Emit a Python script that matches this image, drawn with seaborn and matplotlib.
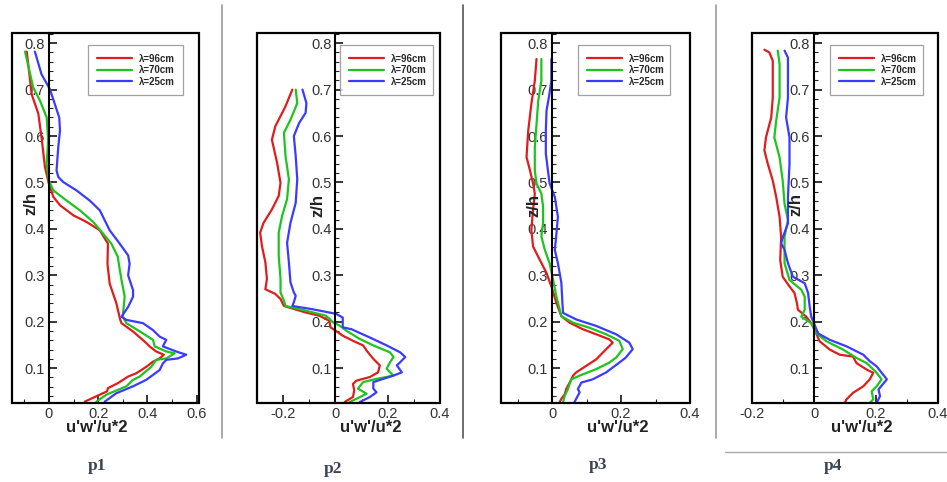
import matplotlib
matplotlib.use('Agg')
import matplotlib.pyplot as plt
import seaborn as sns
import pandas as pd
from matplotlib.ticker import MultipleLocator, FuncFormatter
from matplotlib.patches import Rectangle
from matplotlib.lines import Line2D

sns.set_style('white')
plt.rcParams['font.family'] = ['Liberation Sans', 'DejaVu Sans']

series_labels = ['λ=96cm', 'λ=70cm', 'λ=25cm']
series_colors = ['#e01c1c', '#1ec41e', '#3b3bff']
panel_names = ['p1', 'p2', 'p3', 'p4']
xlabel_text = "u'w'/u*2"
ylabel_text = "z/h"

# ---------------- panel p1 ----------------
p1_red_u = [-0.09, -0.07, -0.043, -0.03, -0.016, 0.0, 0.018, 0.045, 0.10, 0.153, 0.207, 0.24, 0.238, 0.247,
            0.274, 0.29, 0.295, 0.342, 0.396, 0.409, 0.436, 0.467, 0.45, 0.423, 0.396, 0.355, 0.322, 0.281,
            0.24, 0.236, 0.207, 0.146]
p1_red_z = [0.782, 0.69, 0.648, 0.597, 0.533, 0.497, 0.469, 0.451, 0.429, 0.415, 0.397, 0.368, 0.325, 0.282,
            0.24, 0.204, 0.197, 0.179, 0.154, 0.147, 0.136, 0.129, 0.121, 0.114, 0.103, 0.089, 0.082, 0.068,
            0.057, 0.05, 0.043, 0.028]
p1_green_u = [-0.097, -0.064, -0.036, -0.009, -0.003, -0.009, 0.0, 0.018, 0.072, 0.126, 0.18, 0.22, 0.254,
              0.28, 0.284, 0.295, 0.308, 0.30, 0.315, 0.382, 0.423, 0.43, 0.477, 0.511, 0.477, 0.436, 0.416,
              0.369, 0.342, 0.315, 0.234, 0.193]
p1_green_z = [0.782, 0.705, 0.676, 0.64, 0.59, 0.54, 0.504, 0.483, 0.461, 0.44, 0.415, 0.39, 0.368, 0.34,
              0.325, 0.29, 0.254, 0.211, 0.197, 0.175, 0.161, 0.147, 0.136, 0.132, 0.121, 0.118, 0.103,
              0.082, 0.075, 0.061, 0.043, 0.028]
p1_blue_u = [-0.057, -0.03, 0.004, 0.024, 0.042, 0.045, 0.038, 0.031, 0.038, 0.058, 0.112, 0.166, 0.207,
             0.247, 0.288, 0.322, 0.328, 0.322, 0.342, 0.342, 0.322, 0.295, 0.315, 0.382, 0.423, 0.45, 0.477,
             0.463, 0.517, 0.558, 0.524, 0.477, 0.463, 0.45, 0.396, 0.342, 0.274, 0.227]
p1_blue_z = [0.782, 0.733, 0.701, 0.669, 0.64, 0.612, 0.576, 0.526, 0.512, 0.501, 0.483, 0.461, 0.44, 0.397,
             0.368, 0.343, 0.325, 0.30, 0.268, 0.254, 0.232, 0.211, 0.204, 0.197, 0.182, 0.168, 0.161, 0.147,
             0.136, 0.129, 0.121, 0.118, 0.11, 0.096, 0.075, 0.061, 0.046, 0.028]

# ---------------- panel p2 ----------------
p2_red_u = [-0.165, -0.191, -0.23, -0.243, -0.223, -0.21, -0.217, -0.243, -0.275, -0.288, -0.281, -0.268,
            -0.262, -0.268, -0.23, -0.21, -0.197, -0.114, -0.062, -0.023, -0.019, 0.0, 0.028, 0.067, 0.106,
            0.119, 0.145, 0.17, 0.163, 0.132, 0.08, 0.067, 0.072, 0.067, 0.035]
p2_red_z = [0.70, 0.664, 0.621, 0.592, 0.542, 0.499, 0.471, 0.442, 0.413, 0.392, 0.363, 0.328, 0.292, 0.27,
            0.26, 0.249, 0.234, 0.22, 0.213, 0.202, 0.188, 0.181, 0.17, 0.159, 0.149, 0.138, 0.12, 0.106,
            0.091, 0.081, 0.073, 0.066, 0.052, 0.038, 0.027]
p2_green_u = [-0.152, -0.146, -0.172, -0.197, -0.191, -0.178, -0.185, -0.204, -0.217, -0.217, -0.21, -0.21,
              -0.197, -0.191, -0.114, -0.036, -0.01, 0.015, 0.041, 0.093, 0.145, 0.209, 0.222, 0.209, 0.196,
              0.209, 0.222, 0.157, 0.106, 0.086, 0.119, 0.08, 0.054]
p2_green_z = [0.70, 0.671, 0.635, 0.607, 0.557, 0.507, 0.464, 0.428, 0.392, 0.342, 0.292, 0.263, 0.245,
              0.234, 0.224, 0.213, 0.199, 0.192, 0.181, 0.163, 0.149, 0.134, 0.124, 0.113, 0.099, 0.091,
              0.084, 0.077, 0.07, 0.056, 0.045, 0.034, 0.027]
p2_blue_u = [-0.126, -0.111, -0.114, -0.139, -0.159, -0.152, -0.146, -0.152, -0.172, -0.185, -0.178, -0.172,
             -0.159, -0.152, -0.159, -0.165, -0.088, 0.003, 0.028, 0.028, 0.028, 0.061, 0.132, 0.196, 0.248,
             0.267, 0.248, 0.235, 0.254, 0.222, 0.183, 0.145, 0.145, 0.157, 0.132, 0.093]
p2_blue_z = [0.70, 0.671, 0.65, 0.628, 0.60, 0.557, 0.507, 0.456, 0.413, 0.37, 0.328, 0.285, 0.263, 0.256,
             0.242, 0.234, 0.227, 0.217, 0.209, 0.199, 0.188, 0.184, 0.166, 0.149, 0.134, 0.124, 0.113,
             0.106, 0.091, 0.084, 0.077, 0.07, 0.056, 0.048, 0.038, 0.027]

# ---------------- panel p3 ----------------
p3_red_u = [-0.045, -0.05, -0.06, -0.069, -0.074, -0.064, -0.055, -0.05, -0.055, -0.06, -0.055, -0.036,
            -0.016, -0.002, 0.0125, 0.027, 0.051, 0.089, 0.128, 0.166, 0.176, 0.157, 0.128, 0.099, 0.07,
            0.061, 0.051, 0.041, 0.037, 0.027, 0.022]
p3_red_z = [0.766, 0.719, 0.669, 0.612, 0.555, 0.526, 0.498, 0.476, 0.441, 0.398, 0.362, 0.334, 0.305, 0.276,
            0.241, 0.212, 0.198, 0.184, 0.173, 0.162, 0.155, 0.141, 0.119, 0.105, 0.091, 0.084, 0.069,
            0.055, 0.044, 0.034, 0.027]
p3_green_u = [-0.031, -0.031, -0.04, -0.045, -0.05, -0.05, -0.045, -0.031, -0.026, -0.026, -0.031, -0.021,
              -0.007, 0.003, 0.0125, 0.027, 0.061, 0.109, 0.157, 0.195, 0.205, 0.186, 0.166, 0.128, 0.08,
              0.056, 0.051, 0.046, 0.037, 0.032]
p3_green_z = [0.766, 0.719, 0.676, 0.626, 0.576, 0.526, 0.498, 0.476, 0.448, 0.412, 0.384, 0.355, 0.326,
              0.291, 0.255, 0.212, 0.198, 0.187, 0.173, 0.159, 0.141, 0.123, 0.112, 0.098, 0.084, 0.076,
              0.066, 0.055, 0.041, 0.027]
p3_blue_u = [-0.002, -0.002, -0.009, -0.016, -0.018, -0.018, -0.012, -0.007, 0.008, 0.017, 0.012, 0.008,
             0.017, 0.027, 0.03, 0.032, 0.07, 0.128, 0.186, 0.224, 0.234, 0.214, 0.195, 0.157, 0.118, 0.085,
             0.075, 0.08, 0.07, 0.065]
p3_blue_z = [0.766, 0.719, 0.684, 0.655, 0.612, 0.562, 0.526, 0.498, 0.469, 0.426, 0.384, 0.355, 0.326,
             0.284, 0.241, 0.219, 0.205, 0.191, 0.173, 0.155, 0.141, 0.123, 0.112, 0.091, 0.076, 0.069,
             0.055, 0.048, 0.034, 0.027]

# ---------------- panel p4 ----------------
p4_red_u = [-0.16, -0.144, -0.133, -0.133, -0.138, -0.155, -0.16, -0.149, -0.133, -0.122, -0.111, -0.106,
            -0.109, -0.101, -0.079, -0.063, -0.055, -0.052, -0.025, -0.009, 0.0, 0.018, 0.051, 0.083, 0.126,
            0.137, 0.17, 0.191, 0.18, 0.159, 0.126, 0.105, 0.099]
p4_red_z = [0.786, 0.78, 0.762, 0.683, 0.64, 0.597, 0.569, 0.54, 0.504, 0.469, 0.426, 0.383, 0.333, 0.297,
            0.276, 0.262, 0.24, 0.226, 0.211, 0.197, 0.186, 0.158, 0.14, 0.129, 0.125, 0.111, 0.097, 0.09,
            0.076, 0.061, 0.047, 0.033, 0.025]
p4_green_u = [-0.117, -0.111, -0.111, -0.122, -0.128, -0.111, -0.101, -0.095, -0.084, -0.095, -0.095, -0.079,
              -0.041, -0.03, -0.03, -0.041, -0.009, 0.008, 0.04, 0.094, 0.137, 0.17, 0.202, 0.218, 0.202,
              0.186, 0.191, 0.18]
p4_green_z = [0.784, 0.755, 0.683, 0.633, 0.597, 0.554, 0.504, 0.454, 0.419, 0.383, 0.326, 0.29, 0.269,
              0.254, 0.226, 0.211, 0.197, 0.175, 0.158, 0.14, 0.122, 0.111, 0.09, 0.076, 0.061, 0.05, 0.033,
              0.025]
p4_blue_u = [-0.095, -0.084, -0.084, -0.09, -0.079, -0.079, -0.084, -0.084, -0.1, -0.106, -0.095, -0.084,
             -0.068, -0.03, -0.019, -0.014, -0.009, 0.0, 0.013, 0.051, 0.105, 0.159, 0.18, 0.202, 0.235,
             0.208, 0.213, 0.202]
p4_blue_z = [0.784, 0.769, 0.683, 0.64, 0.597, 0.54, 0.469, 0.412, 0.383, 0.369, 0.355, 0.326, 0.297, 0.283,
             0.262, 0.233, 0.211, 0.197, 0.175, 0.161, 0.147, 0.129, 0.115, 0.104, 0.076, 0.054, 0.04, 0.025]

panel_series = [
    [(p1_red_u, p1_red_z), (p1_green_u, p1_green_z), (p1_blue_u, p1_blue_z)],
    [(p2_red_u, p2_red_z), (p2_green_u, p2_green_z), (p2_blue_u, p2_blue_z)],
    [(p3_red_u, p3_red_z), (p3_green_u, p3_green_z), (p3_blue_u, p3_blue_z)],
    [(p4_red_u, p4_red_z), (p4_green_u, p4_green_z), (p4_blue_u, p4_blue_z)],
]
panel_xlims = [(-0.15, 0.61), (-0.30, 0.40), (-0.148, 0.40), (-0.20, 0.40)]
panel_xticks = [[0, 0.2, 0.4, 0.6], [-0.2, 0, 0.2, 0.4], [0, 0.2, 0.4], [-0.2, 0, 0.2, 0.4]]
ylim = (0.025, 0.822)

W, H = 947, 482
fig = plt.figure(figsize=(W / 100, H / 100), dpi=100)
fig.patch.set_facecolor('white')

# pixel boxes: left, right
boxes_px = [(12, 199), (257, 440), (501, 690), (752, 938)]
top_px, bot_px = 33, 403
legend_x = [0.406, 0.454, 0.407, 0.42]
legend_w = [0.508, 0.508, 0.487, 0.50]
xlabel_cx = [0.455, 0.623, 0.619, 0.59]
ylabel_y = [0.455, 0.45, 0.45, 0.452]
plabel_xy = [(97, 466), (333, 469), (598, 465), (833, 466)]

fmt = FuncFormatter(lambda v, p: f"{v:g}")

for i in range(4):
    l, r = boxes_px[i]
    ax = fig.add_axes([l / W, 1 - bot_px / H, (r - l) / W, (bot_px - top_px) / H])
    ax.set_facecolor('white')
    rows = []
    for s, (u, z) in enumerate(panel_series[i]):
        for k in range(len(u)):
            rows.append({'u': u[k], 'z': z[k], 'series': series_labels[s], 'k': k})
    df = pd.DataFrame(rows)
    sns.lineplot(data=df, x='u', y='z', hue='series', hue_order=series_labels,
                 palette=series_colors, sort=False, estimator=None, linewidth=1.6,
                 legend=False, ax=ax)
    ax.set_xlim(*panel_xlims[i])
    ax.set_ylim(*ylim)
    ax.set_xlabel('')
    ax.set_ylabel('')

    for sp in ['top', 'right', 'bottom']:
        ax.spines[sp].set_visible(False)
    ax.spines['left'].set_position(('data', 0))
    ax.spines['left'].set_linewidth(1.5)
    ax.spines['left'].set_color('black')
    ax.add_patch(Rectangle((0, 0), 1, 1, transform=ax.transAxes, fill=False,
                           edgecolor='black', linewidth=1.6, clip_on=False, zorder=5))

    ax.yaxis.set_major_locator(MultipleLocator(0.1))
    ax.yaxis.set_minor_locator(MultipleLocator(0.02))
    ax.yaxis.set_major_formatter(fmt)
    ax.set_xticks(panel_xticks[i])
    ax.xaxis.set_minor_locator(MultipleLocator(0.1))
    ax.xaxis.set_major_formatter(fmt)
    ax.tick_params(axis='y', which='major', direction='in', length=6, width=1.3,
                   left=True, right=False, labelleft=True, pad=3, labelsize=10.5, labelcolor='#333333')
    ax.tick_params(axis='y', which='minor', direction='in', length=3, width=0.8, left=True, right=False)
    ax.tick_params(axis='x', which='major', direction='in', length=6, width=1.3,
                   bottom=True, top=False, pad=3, labelsize=10.5, labelcolor='#333333')
    ax.tick_params(axis='x', which='minor', direction='in', length=3, width=0.8, bottom=True, top=False)

    handles = [Line2D([0], [0], color=c, lw=1.6) for c in series_colors]
    leg = ax.legend(handles, series_labels, loc='upper left',
                    bbox_to_anchor=(legend_x[i], 0.968, legend_w[i], 0), mode='expand',
                    bbox_transform=ax.transAxes, frameon=True, fancybox=False,
                    prop={'size': 7, 'weight': 'bold'}, handlelength=3.6, handletextpad=0.7,
                    labelspacing=0.15, borderpad=0.9, borderaxespad=0)
    leg.get_frame().set_edgecolor('#8a8a8a')
    leg.get_frame().set_linewidth(0.9)

    ax.annotate(xlabel_text, xy=(xlabel_cx[i], 0), xycoords='axes fraction',
                xytext=(0, -25), textcoords='offset pixels', ha='center', va='center',
                fontsize=12, fontweight='bold', color='#222222')
    ax.annotate(ylabel_text, xy=(0, ylabel_y[i]), xycoords='data',
                xytext=(-18, 0), textcoords='offset pixels', ha='center', va='center',
                rotation=90, fontsize=12, fontweight='bold', color='#222222', zorder=6)

    px, py = plabel_xy[i]
    fig.text(px / W, 1 - py / H, panel_names[i], ha='center', va='center',
             fontsize=12.5, fontweight='bold', family='Liberation Serif', color='#3a4257')

# separators
sep_x = [222, 463, 716]
sep_c = ['#9a9a9a', '#555555', '#9a9a9a']
for x, c in zip(sep_x, sep_c):
    fig.add_artist(Line2D([x / W, x / W], [1 - 5 / H, 1 - 438 / H], transform=fig.transFigure,
                          color=c, linewidth=1.2))
fig.add_artist(Line2D([725 / W, 1.0], [1 - 452 / H, 1 - 452 / H], transform=fig.transFigure,
                      color='#aaaaaa', linewidth=1.0))

fig.savefig('out.png', dpi=100, facecolor='white')
